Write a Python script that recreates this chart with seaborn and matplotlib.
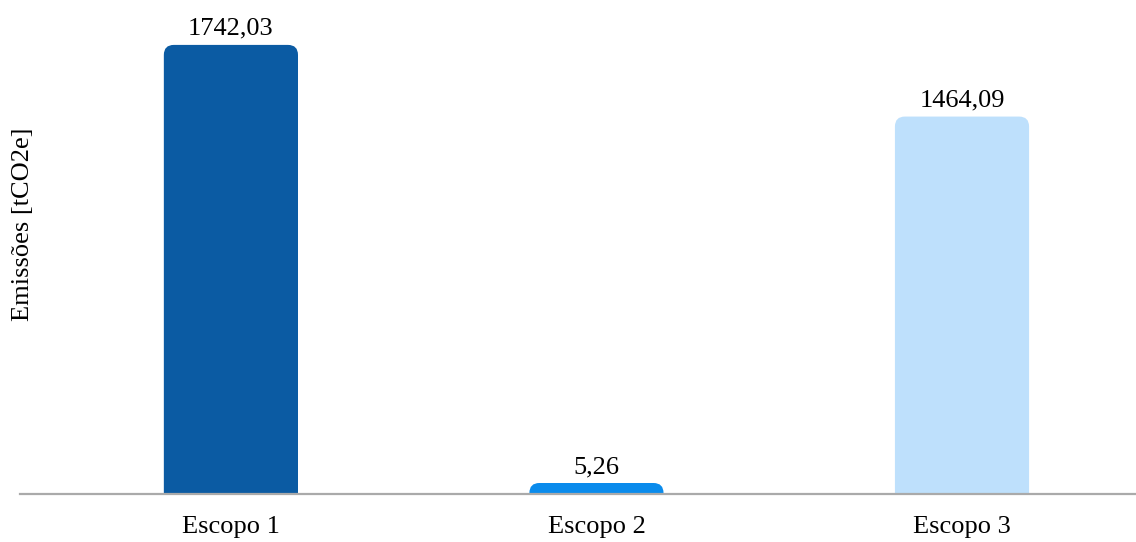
import matplotlib
matplotlib.use("Agg")
import matplotlib.pyplot as plt
import seaborn as sns
import pandas as pd
from matplotlib.patches import FancyBboxPatch

categories = ["Escopo 1", "Escopo 2", "Escopo 3"]
values = [1742.03, 5.26, 1464.09]
value_labels = ["1742,03", "5,26", "1464,09"]
colors = ["#0B5BA3", "#0A8BEC", "#BEE0FC"]
y_label = "Emissões [tCO2e]"

sns.set_theme(style="white")
plt.rcParams['font.family'] = ['Liberation Serif', 'DejaVu Serif']

W, H = 1136, 542
AX_L, AX_B, AX_W, AX_H = 20, 48, 1116, 494
fig = plt.figure(figsize=(W / 100, H / 100), dpi=100)
ax = fig.add_axes([AX_L / W, AX_B / H, AX_W / W, AX_H / H])

df = pd.DataFrame({"cat": categories, "val": values})
sns.barplot(data=df, x="cat", y="val", hue="cat", palette=colors,
            width=0.367, legend=False, ax=ax, saturation=1)

ax.set_xlim(-0.577, 2.476)
ax.set_ylim(0, AX_H / 0.2578)

ux = (ax.get_xlim()[1] - ax.get_xlim()[0]) / AX_W
uy = (ax.get_ylim()[1] - ax.get_ylim()[0]) / AX_H

radius_px = 10
min_px = 11
rx = radius_px * ux
ry = radius_px * uy

bars = list(ax.patches)
for p, lab in zip(bars, value_labels):
    x0 = p.get_x()
    w = p.get_width()
    h = p.get_height()
    fc = p.get_facecolor()
    p.remove()
    top = max(h, min_px * uy)
    box = FancyBboxPatch((x0, -ry * 2), w, top + ry * 2,
                         boxstyle=f"round,pad=0,rounding_size={rx}",
                         mutation_aspect=uy / ux,
                         facecolor=fc, edgecolor="none", zorder=1)
    ax.add_patch(box)
    ax.text(x0 + w / 2, top + 10 * uy, lab, ha="center", va="baseline",
            fontsize=19, color="#000000")

for s in ["top", "right", "left"]:
    ax.spines[s].set_visible(False)
ax.spines["bottom"].set_color("#AAAAAA")
ax.spines["bottom"].set_linewidth(1.6)
ax.spines["bottom"].set_zorder(3)

ax.set_xlabel("")
ax.set_ylabel("")
ax.set_yticks([])
ax.tick_params(axis="x", length=0, pad=16, labelsize=19, labelcolor="#000000")

fig.text(23 / W, (H - 224) / H, y_label, rotation=90, ha="center", va="center",
         fontsize=19, color="#000000")

fig.savefig("out.png", dpi=100)
